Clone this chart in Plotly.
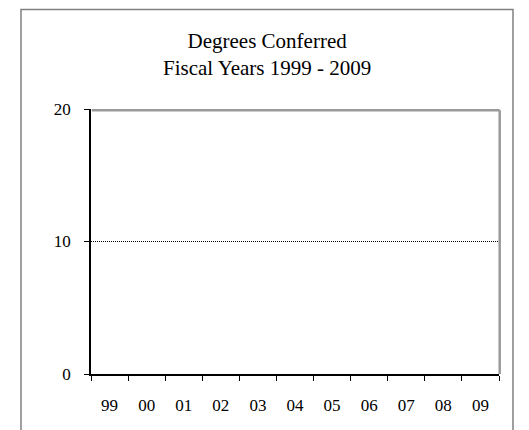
import plotly.graph_objects as go

# fiscal years (two-digit labels) and degrees conferred - nothing plotted in the original
years = ['99', '00', '01', '02', '03', '04', '05', '06', '07', '08', '09']
degrees = [0, 0, 0, 0, 0, 0, 0, 0, 0, 0, 0]
y_ticks = [0, 10, 20]

title_lines = ['Degrees Conferred', 'Fiscal Years 1999 - 2009']

serif = 'Liberation Serif, Times New Roman, serif'

fig = go.Figure()
fig.add_trace(go.Bar(
    x=years,
    y=degrees,
    marker=dict(color='#9999ff', line=dict(width=0)),
    showlegend=False,
    hoverinfo='skip'
))

# page has an 8px body margin, so margins are shifted to compensate
fig.update_layout(
    width=529,
    height=430,
    margin=dict(l=83, r=38, t=101, b=64),
    paper_bgcolor='white',
    plot_bgcolor='white',
    font=dict(family=serif, size=17, color='black'),
    showlegend=False,
    annotations=[dict(
        text='<br>'.join(title_lines),
        xref='paper', yref='paper',
        x=0.431, y=1.205,
        xanchor='center', yanchor='middle',
        showarrow=False,
        font=dict(family=serif, size=21, color='black')
    )],
    shapes=[
        # outer chart frame
        dict(type='rect', xref='paper', yref='paper',
             x0=-0.1716, x1=1.0343, y0=-0.26, y1=1.3755,
             line=dict(color='#808080', width=1.5), layer='below'),
        # gray top and right border of plot area
        dict(type='line', xref='paper', yref='paper',
             x0=0.002, x1=1.0017, y0=0.9955, y1=0.9955,
             line=dict(color='#999999', width=2.5), layer='above'),
        dict(type='line', xref='paper', yref='paper',
             x0=1.0017, x1=1.0017, y0=0, y1=0.9955,
             line=dict(color='#999999', width=2.5), layer='above'),
    ]
)

fig.update_xaxes(
    type='category',
    tickson='boundaries',
    ticks='outside', ticklen=5, tickwidth=1, tickcolor='black',
    showline=True, linecolor='black', linewidth=1.5,
    showgrid=False,
    ticklabelstandoff=15,
    tickfont=dict(family=serif, size=17)
)
fig.update_yaxes(
    range=[0, 20],
    tickvals=y_ticks,
    ticks='outside', ticklen=5, tickwidth=1, tickcolor='black',
    showline=True, linecolor='black', linewidth=1.5,
    showgrid=True, gridcolor='black', gridwidth=1, griddash='1px,1px',
    zeroline=False,
    ticklabelstandoff=10,
    tickfont=dict(family=serif, size=17)
)

fig.write_html("out.html")
